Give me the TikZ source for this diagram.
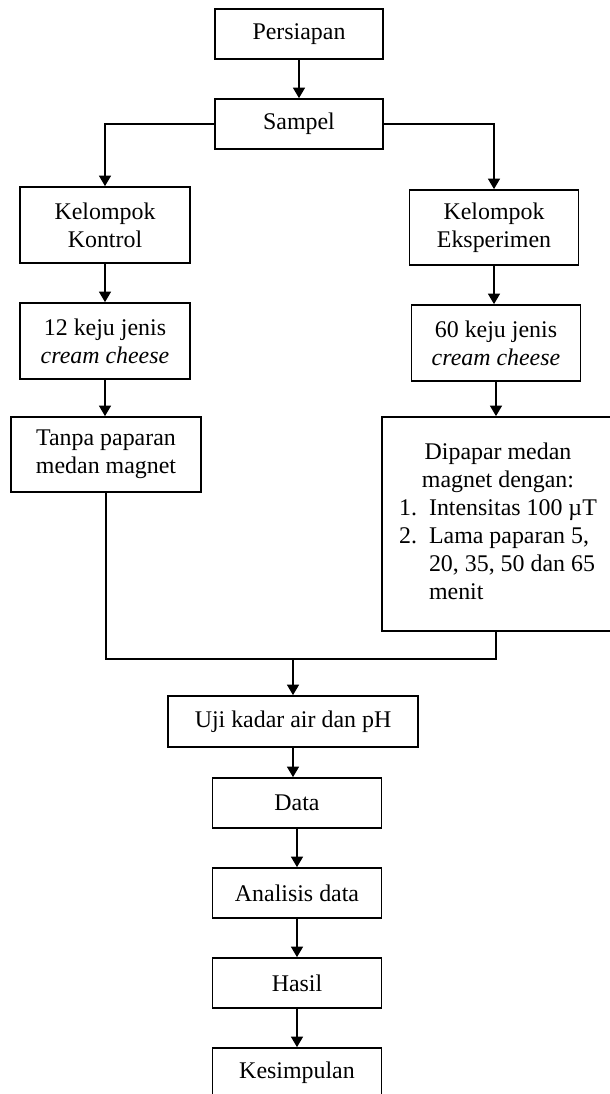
\documentclass[tikz,border=0pt]{standalone}
\usepackage{fontspec}
\setmainfont{Liberation Serif}
\usetikzlibrary{arrows.meta,positioning}

\tikzset{
  blok/.style={draw, line width=1.2pt, align=center, inner sep=0pt,
    font=\fontsize{17}{20}\selectfont},
  panah/.style={line width=1.2pt, -{Triangle[length=7.5pt,width=8.5pt]}}
}

\begin{document}
\begin{tikzpicture}[x=0.025cm, y=-0.025cm]
  \useasboundingbox (0,0) rectangle (610,1094);

  % Top
  \node[blok, minimum width=4.2cm, minimum height=1.25cm] (persiapan) at (299,34) {Persiapan};
  \node[blok, minimum width=4.2cm, minimum height=1.25cm] (sampel) at (299,124) {Sampel};

  % Two groups
  \node[blok, minimum width=4.25cm, minimum height=1.9cm] (kontrol) at (105,225) {Kelompok\\Kontrol};
  \node[blok, minimum width=4.225cm, minimum height=1.875cm] (eksperimen) at (494,227.5) {Kelompok\\Eksperimen};

  \node[blok, minimum width=4.25cm, minimum height=1.9cm] (keju12) at (105,341) {12 keju jenis\\\textit{cream cheese}};
  \node[blok, minimum width=4.225cm, minimum height=1.9cm] (keju60) at (496,343) {60 keju jenis\\\textit{cream cheese}};

  \node[blok, minimum width=4.75cm, minimum height=1.875cm] (tanpa) at (106,454.5) {Tanpa paparan\\medan magnet};
  \node[blok, minimum width=5.8cm, minimum height=5.35cm] (dipapar) at (498,524) {%
    \begin{tabular}{@{}r@{\ \ }l@{}}
      \multicolumn{2}{c}{Dipapar medan}\\
      \multicolumn{2}{c}{magnet dengan:}\\
      1. & Intensitas 100 µT\\
      2. & Lama paparan 5,\\
         & 20, 35, 50 dan 65\\
         & menit
    \end{tabular}};

  % Bottom
  \coordinate (gabung) at (293,659);
  \node[blok, minimum width=6.25cm, minimum height=1.275cm] (uji) at (293,721.5) {Uji kadar air dan pH};
  \node[blok, minimum width=4.225cm, minimum height=1.25cm] (data) at (297,803) {Data};
  \node[blok, minimum width=4.225cm, minimum height=1.25cm] (analisis) at (297,893) {Analisis data};
  \node[blok, minimum width=4.225cm, minimum height=1.25cm] (hasil) at (297,983) {Hasil};
  \node[blok, minimum width=4.225cm, minimum height=1.25cm] (kesimpulan) at (297,1073) {Kesimpulan};

  % Connectors
  \draw[panah] (persiapan) -- (sampel);
  \draw[panah] (sampel.west) -| (kontrol.north);
  \draw[panah] (sampel.east) -| (eksperimen.north);
  \draw[panah] (kontrol) -- (keju12);
  \draw[panah] (eksperimen.south) -- (eksperimen.south |- keju60.north);
  \draw[panah] (keju12) -- (keju12 |- tanpa.north);
  \draw[panah] (keju60.south) -- (keju60.south |- dipapar.north);
  \draw[line width=1.2pt] (tanpa.south) |- (gabung);
  \draw[line width=1.2pt] (keju60.south |- dipapar.south) |- (gabung);
  \draw[panah] (gabung) -- (uji);
  \draw[panah] (uji.south) -- (uji.south |- data.north);
  \draw[panah] (data) -- (analisis);
  \draw[panah] (analisis) -- (hasil);
  \draw[panah] (hasil) -- (kesimpulan);
\end{tikzpicture}
\end{document}
